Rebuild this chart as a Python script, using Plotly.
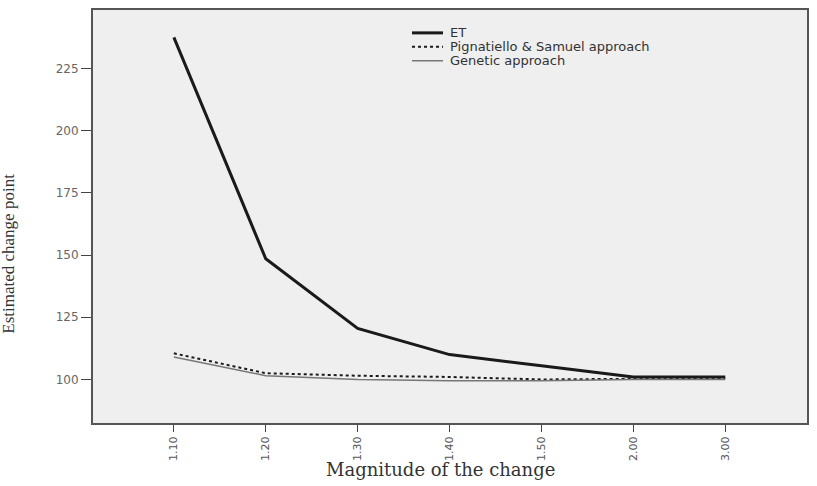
import plotly.graph_objects as go

categories = ["1.10", "1.20", "1.30", "1.40", "1.50", "2.00", "3.00"]
et = [237.5, 148.5, 120.5, 110.0, 105.5, 101.0, 101.0]
pignatiello = [110.5, 102.5, 101.5, 101.0, 100.0, 100.3, 100.5]
genetic = [109.0, 101.5, 100.0, 99.5, 99.5, 100.0, 100.0]
y_ticks = [100, 125, 150, 175, 200, 225]
series_names = ["ET", "Pignatiello & Samuel approach", "Genetic approach"]

styles = [
    dict(color="#1a1a1a", width=3),
    dict(color="#1a1a1a", width=2, dash="dot"),
    dict(color="#777777", width=1.5),
]

fig = go.Figure()
for name, vals, st in zip(series_names, [et, pignatiello, genetic], styles):
    fig.add_trace(go.Scatter(x=categories, y=vals, mode="lines", name=name,
                             line=st, showlegend=False))

# compact legend (SPSS style) drawn in paper coordinates
leg_rows = [0.9446, 0.9108, 0.8771]
for name, st, yy in zip(series_names, styles, leg_rows):
    fig.add_shape(type="line", xref="paper", yref="paper",
                  x0=0.4468, x1=0.4902, y0=yy, y1=yy,
                  line=dict(color=st["color"], width=st["width"],
                            dash=st.get("dash", "solid")))
    fig.add_annotation(xref="paper", yref="paper", x=0.4972, y=yy,
                       xanchor="left", yanchor="middle", showarrow=False,
                       text=name, font=dict(size=13, color="#333333",
                                            family="DejaVu Sans, sans-serif"))

# axis titles
fig.add_annotation(xref="paper", yref="paper", x=0.486, y=-0.113,
                   xanchor="center", yanchor="middle", showarrow=False,
                   text="Magnitude of the change",
                   font=dict(family="DejaVu Serif, serif", size=18, color="#333333"))
fig.add_annotation(xref="paper", yref="paper", x=-0.1176, y=0.41,
                   xanchor="center", yanchor="middle", showarrow=False,
                   textangle=-90, text="Estimated change point",
                   font=dict(family="Liberation Serif, Times New Roman, serif", size=17, color="#333333"))

fig.update_layout(
    width=817, height=486,
    margin=dict(l=93, r=10, t=8, b=63),
    paper_bgcolor="white",
    plot_bgcolor="#efefef",
    font=dict(family="DejaVu Sans, sans-serif", color="#555555", size=11),
    showlegend=False,
    xaxis=dict(
        type="category", range=[-0.88, 6.89],
        tickangle=-90, ticks="outside", ticklen=7, tickcolor="#444444",
        tickfont=dict(size=11, color="#555555", family="DejaVu Sans, sans-serif"),
        showgrid=False, zeroline=False,
        showline=True, linecolor="#555555", linewidth=2, mirror=True,
    ),
    yaxis=dict(
        range=[82.5, 248.5], tickvals=y_ticks,
        ticks="outside", ticklen=10, tickcolor="#444444",
        tickfont=dict(size=12, color="#666666", family="DejaVu Sans, sans-serif"),
        showgrid=False, zeroline=False,
        showline=True, linecolor="#555555", linewidth=2, mirror=True,
    ),
)

fig.write_html("out.html")
